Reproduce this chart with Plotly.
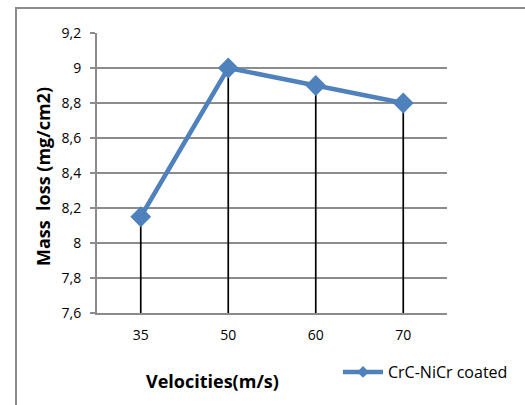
import plotly.graph_objects as go

# Mass loss of CrC-NiCr coated samples at different erosion velocities
velocities = ["35", "50", "60", "70"]
mass_loss = [8.15, 9.0, 8.9, 8.8]
series_name = "CrC-NiCr coated"
y_ticks = [7.6, 7.8, 8.0, 8.2, 8.4, 8.6, 8.8, 9.0, 9.2]

y_min, y_max = 7.6, 9.2

L, R, T, B = 97, 78, 33, 92
W, H = 525, 405
pw, ph = W - L - R, H - T - B

FONT = "Open Sans, Carlito, Calibri, sans-serif"
GRID = "#8c8c8c"
BLUE = "#4F81BD"

fig = go.Figure()

# drop lines from each point down to the category axis
drop_x, drop_y = [], []
for v, m in zip(velocities, mass_loss):
    drop_x += [v, v, None]
    drop_y += [y_min, m, None]
fig.add_trace(go.Scatter(
    x=drop_x, y=drop_y, mode="lines",
    line=dict(color="black", width=1.7),
    showlegend=False, hoverinfo="skip",
))

fig.add_trace(go.Scatter(
    x=velocities, y=mass_loss, mode="lines+markers", name=series_name,
    line=dict(color=BLUE, width=4.5),
    marker=dict(symbol="diamond", size=16, color=BLUE),
    showlegend=False,
))

# legend entry with a smaller marker
fig.add_trace(go.Scatter(
    x=[None], y=[None], mode="lines+markers", name=series_name,
    line=dict(color=BLUE, width=4.5),
    marker=dict(symbol="diamond", size=9, color=BLUE),
    showlegend=True,
))

fig.update_xaxes(
    type="category", range=[-0.5, 3.5],
    showgrid=False, showline=True, linecolor=GRID, linewidth=2,
    ticks="", tickfont=dict(family=FONT, size=14, color="#000"),
    ticklabelstandoff=8,
    fixedrange=True,
)
fig.update_yaxes(
    range=[y_min, y_max], tickvals=y_ticks,
    showgrid=True, gridcolor=GRID, gridwidth=2,
    showline=True, linecolor=GRID, linewidth=2,
    ticks="outside", ticklen=5, tickcolor=GRID, tickwidth=2,
    tickfont=dict(family=FONT, size=14, color="#000"),
    ticklabelstandoff=6,
    zeroline=False,
)

# outer chart frame
fig.add_shape(type="rect", xref="paper", yref="paper",
              x0=(16 - L) / pw, x1=(540 - L) / pw,
              y0=-(420 - (H - B)) / ph, y1=((H - B) - 8) / ph,
              line=dict(color=GRID, width=2), fillcolor="rgba(0,0,0,0)", layer="below")

fig.add_annotation(
    text="<b>Mass\u00a0 loss (mg/cm2)</b>", xref="paper", yref="paper",
    x=(43 - L) / pw, y=(H - B - 177) / ph, textangle=-90, showarrow=False,
    xanchor="center", yanchor="middle",
    font=dict(family=FONT, size=18, color="#000"),
)
fig.add_annotation(
    text="<b>Velocities(m/s)</b>", xref="paper", yref="paper",
    x=(212 - L) / pw, y=-(381 - (H - B)) / ph, showarrow=False,
    xanchor="center", yanchor="middle",
    font=dict(family=FONT, size=18, color="#000"),
)

fig.update_layout(
    width=W, height=H,
    margin=dict(l=L, r=R, t=T, b=B),
    paper_bgcolor="white", plot_bgcolor="white",
    separators=",.",
    showlegend=True,
    legend=dict(
        x=(338 - L) / pw, y=-(372 - (H - B)) / ph,
        xanchor="left", yanchor="middle",
        font=dict(family=FONT, size=16, color="#000"),
        bgcolor="rgba(0,0,0,0)", itemwidth=40,
    ),
)

fig.write_html("out.html")
